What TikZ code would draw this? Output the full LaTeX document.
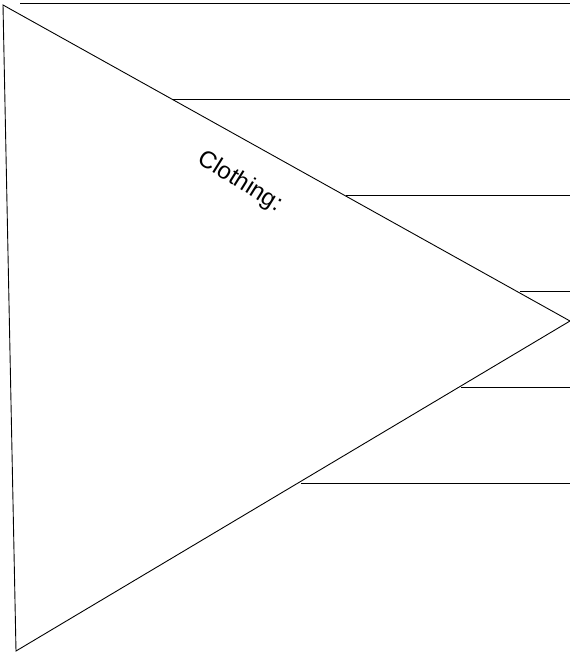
\documentclass[tikz,border=0pt]{standalone}
\usepackage{fontspec}
\setmainfont{Liberation Sans}
\begin{document}
\begin{tikzpicture}[x=1pt,y=-1pt,line width=0.9pt,
  rule/.style={draw=black},
  lbl/.style={font=\fontsize{24}{28}\selectfont, inner sep=0pt}]
\useasboundingbox (0,0) rectangle (570,654);
\coordinate (tl) at (3,5);
\coordinate (bl) at (16,651);
\coordinate (r) at (570,321);
\draw[rule] (tl) -- (bl) -- (r) -- cycle;
\coordinate (h0a) at (20,3);   \coordinate (h0b) at (570,3);
\coordinate (h1a) at (173,99); \coordinate (h1b) at (570,99);
\coordinate (h2a) at (346,195); \coordinate (h2b) at (570,195);
\coordinate (h3a) at (520,291); \coordinate (h3b) at (570,291);
\coordinate (h4a) at (461,387); \coordinate (h4b) at (570,387);
\coordinate (h5a) at (301,483); \coordinate (h5b) at (570,483);
\draw[rule] (h0a) -- (h0b);
\draw[rule] (h1a) -- (h1b);
\draw[rule] (h2a) -- (h2b);
\draw[rule] (h3a) -- (h3b);
\draw[rule] (h4a) -- (h4b);
\draw[rule] (h5a) -- (h5b);
\node[lbl, rotate=-32] (t) at (240,182) {Clothing:};
\end{tikzpicture}
\end{document}
